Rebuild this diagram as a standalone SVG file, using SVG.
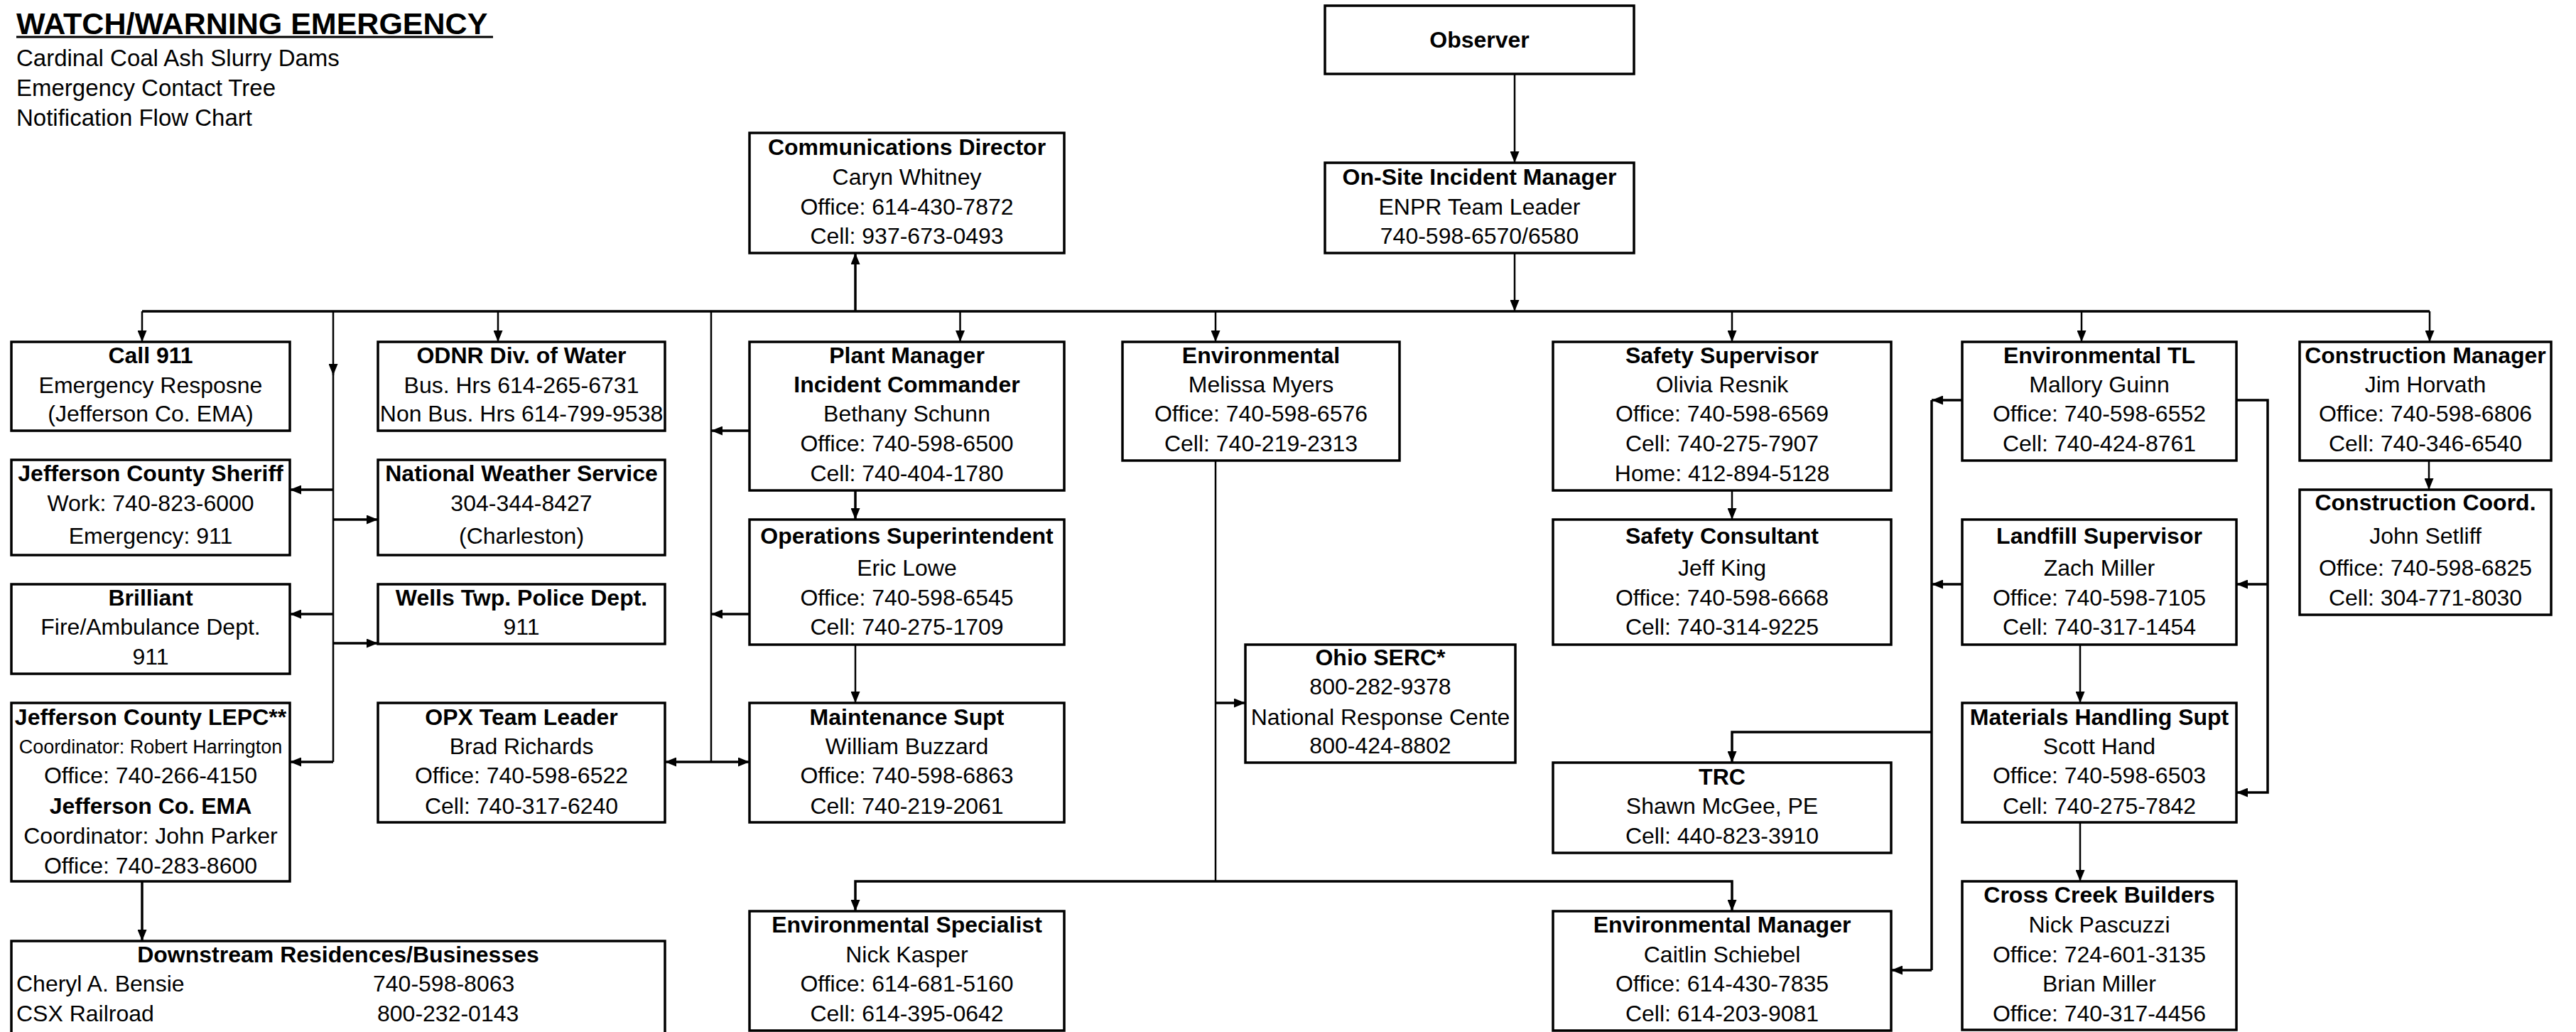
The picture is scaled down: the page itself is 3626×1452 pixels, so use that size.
<svg xmlns="http://www.w3.org/2000/svg" width="3626" height="1452" viewBox="0 0 3626 1452">
<style>
.bg{fill:#fff}
.box{fill:#fff;stroke:#000;stroke-width:3.5}
text{font-family:"Liberation Sans",Arial,sans-serif;font-size:32px;fill:#000;text-anchor:middle}
.b{font-weight:bold}
.s{font-size:27px}
.l{text-anchor:start}
.c{fill:none;stroke:#000;stroke-width:2.5}
.k{stroke-width:3.5}
</style>
<defs>
<marker id="ah" markerUnits="userSpaceOnUse" markerWidth="16" markerHeight="13" refX="16" refY="6.5" orient="auto">
<path d="M0,0 L16,6.5 L0,13 z" fill="#000"/>
</marker>
</defs>
<rect class="bg" x="0" y="0" width="3626" height="1452"/>

<g id="title">
<text class="b l" x="23" y="48" style="font-size:43px">WATCH/WARNING EMERGENCY</text>
<line x1="23" y1="52" x2="694" y2="52" stroke="#000" stroke-width="3"/>
<text class="l" x="23" y="93" style="font-size:33px">Cardinal Coal Ash Slurry Dams</text>
<text class="l" x="23" y="135" style="font-size:33px">Emergency Contact Tree</text>
<text class="l" x="23" y="177" style="font-size:33px">Notification Flow Chart</text>
</g>

<g id="connectors">
<path class="c" d="M2132,104 V229" marker-end="url(#ah)"/>
<path class="c" d="M2132,356 V438" marker-end="url(#ah)"/>
<path class="c k" d="M200,438 H3420"/>
<path class="c" d="M200,438 V481" marker-end="url(#ah)"/>
<path class="c" d="M701,438 V481" marker-end="url(#ah)"/>
<path class="c" d="M469,438 V528" marker-end="url(#ah)"/>
<path class="c" d="M469,520 V1072"/>
<path class="c k" d="M469,689 H408" marker-end="url(#ah)"/>
<path class="c k" d="M469,731 H532" marker-end="url(#ah)"/>
<path class="c k" d="M469,864 H408" marker-end="url(#ah)"/>
<path class="c k" d="M469,905 H532" marker-end="url(#ah)"/>
<path class="c k" d="M469,1072 H408" marker-end="url(#ah)"/>
<path class="c" d="M1001,438 V1072"/>
<path class="c k" d="M1055,606 H1001" marker-end="url(#ah)"/>
<path class="c k" d="M1055,864 H1001" marker-end="url(#ah)"/>
<path class="c k" d="M1001,1072 H936" marker-end="url(#ah)"/>
<path class="c k" d="M1001,1072 H1055" marker-end="url(#ah)"/>
<path class="c k" d="M1204,438 V356" marker-end="url(#ah)"/>
<path class="c" d="M1351.5,438 V481" marker-end="url(#ah)"/>
<path class="c k" d="M1204,690 V731" marker-end="url(#ah)"/>
<path class="c" d="M1204,907 V989" marker-end="url(#ah)"/>
<path class="c" d="M1711,438 V481" marker-end="url(#ah)"/>
<path class="c" d="M1711,648 V1240"/>
<path class="c k" d="M1711,989 H1753" marker-end="url(#ah)"/>
<path class="c k" d="M1711,1240 H1204 V1282" marker-end="url(#ah)"/>
<path class="c k" d="M1711,1240 H2438 V1282" marker-end="url(#ah)"/>
<path class="c" d="M2438,438 V481" marker-end="url(#ah)"/>
<path class="c" d="M2438,690 V731" marker-end="url(#ah)"/>
<path class="c" d="M2930,438 V481" marker-end="url(#ah)"/>
<path class="c" d="M3420,438 V481" marker-end="url(#ah)"/>
<path class="c" d="M3419,648 V689" marker-end="url(#ah)"/>
<path class="c k" d="M2762,563 H2719" marker-end="url(#ah)"/>
<path class="c k" d="M2762,822 H2719" marker-end="url(#ah)"/>
<path class="c k" d="M2719,563 V1365"/>
<path class="c k" d="M2719,1365 H2662" marker-end="url(#ah)"/>
<path class="c k" d="M2719,1030 H2438 V1073" marker-end="url(#ah)"/>
<path class="c k" d="M3148,563 H3192 V1115 H3148" marker-end="url(#ah)"/>
<path class="c k" d="M3192,822 H3148" marker-end="url(#ah)"/>
<path class="c" d="M2928,907 V989" marker-end="url(#ah)"/>
<path class="c" d="M2928,1157 V1240" marker-end="url(#ah)"/>
<path class="c k" d="M200,1240 V1324" marker-end="url(#ah)"/>
</g>

<g id="observer"><rect class="box" x="1865" y="8" width="435" height="96"/>
<text class="b" x="2082.5" y="67">Observer</text></g>

<g id="onsite-incident-manager"><rect class="box" x="1865" y="229" width="435" height="127"/>
<text class="b" x="2082.5" y="260">On-Site Incident Manager</text>
<text x="2082.5" y="302">ENPR Team Leader</text>
<text x="2082.5" y="343">740-598-6570/6580</text></g>

<g id="communications-director"><rect class="box" x="1055" y="187" width="443" height="169"/>
<text class="b" x="1276.5" y="218">Communications Director</text>
<text x="1276.5" y="260">Caryn Whitney</text>
<text x="1276.5" y="302">Office: 614-430-7872</text>
<text x="1276.5" y="343">Cell: 937-673-0493</text></g>

<g id="call-911"><rect class="box" x="16" y="481" width="392" height="125"/>
<text class="b" x="212" y="511">Call 911</text>
<text x="212" y="553">Emergency Resposne</text>
<text x="212" y="593">(Jefferson Co. EMA)</text></g>

<g id="odnr"><rect class="box" x="532" y="481" width="404" height="125"/>
<text class="b" x="734" y="511">ODNR Div. of Water</text>
<text x="734" y="553">Bus. Hrs 614-265-6731</text>
<text x="734" y="593">Non Bus. Hrs 614-799-9538</text></g>

<g id="sheriff"><rect class="box" x="16" y="647" width="392" height="134"/>
<text class="b" x="212" y="677">Jefferson County Sheriff</text>
<text x="212" y="719">Work: 740-823-6000</text>
<text x="212" y="765">Emergency: 911</text></g>

<g id="nws"><rect class="box" x="532" y="647" width="404" height="134"/>
<text class="b" x="734" y="677">National Weather Service</text>
<text x="734" y="719">304-344-8427</text>
<text x="734" y="765">(Charleston)</text></g>

<g id="brilliant"><rect class="box" x="16" y="822" width="392" height="126"/>
<text class="b" x="212" y="852">Brilliant</text>
<text x="212" y="893">Fire/Ambulance Dept.</text>
<text x="212" y="935">911</text></g>

<g id="wells-police"><rect class="box" x="532" y="822" width="404" height="84"/>
<text class="b" x="734" y="852">Wells Twp. Police Dept.</text>
<text x="734" y="893">911</text></g>

<g id="lepc"><rect class="box" x="16" y="989" width="392" height="251"/>
<text class="b" x="212" y="1020">Jefferson County LEPC**</text>
<text class="s" x="212" y="1060">Coordinator: Robert Harrington</text>
<text x="212" y="1102">Office: 740-266-4150</text>
<text class="b" x="212" y="1145">Jefferson Co. EMA</text>
<text x="212" y="1187">Coordinator: John Parker</text>
<text x="212" y="1229">Office: 740-283-8600</text></g>

<g id="opx"><rect class="box" x="532" y="989" width="404" height="168"/>
<text class="b" x="734" y="1020">OPX Team Leader</text>
<text x="734" y="1061">Brad Richards</text>
<text x="734" y="1102">Office: 740-598-6522</text>
<text x="734" y="1145">Cell: 740-317-6240</text></g>

<g id="downstream"><rect class="box" x="16" y="1324" width="920" height="150"/>
<text class="b" x="476" y="1354">Downstream Residences/Businesses</text>
<text class="l" x="23" y="1395">Cheryl A. Bensie</text>
<text class="l" x="525" y="1395">740-598-8063</text>
<text class="l" x="23" y="1437">CSX Railroad</text>
<text class="l" x="531" y="1437">800-232-0143</text></g>

<g id="plant-manager"><rect class="box" x="1055" y="481" width="443" height="209"/>
<text class="b" x="1276.5" y="511">Plant Manager</text>
<text class="b" x="1276.5" y="552">Incident Commander</text>
<text x="1276.5" y="593">Bethany Schunn</text>
<text x="1276.5" y="635">Office: 740-598-6500</text>
<text x="1276.5" y="677">Cell: 740-404-1780</text></g>

<g id="operations-superintendent"><rect class="box" x="1055" y="731" width="443" height="176"/>
<text class="b" x="1276.5" y="765">Operations Superintendent</text>
<text x="1276.5" y="810">Eric Lowe</text>
<text x="1276.5" y="852">Office: 740-598-6545</text>
<text x="1276.5" y="893">Cell: 740-275-1709</text></g>

<g id="maintenance-supt"><rect class="box" x="1055" y="989" width="443" height="168"/>
<text class="b" x="1276.5" y="1020">Maintenance Supt</text>
<text x="1276.5" y="1061">William Buzzard</text>
<text x="1276.5" y="1102">Office: 740-598-6863</text>
<text x="1276.5" y="1145">Cell: 740-219-2061</text></g>

<g id="environmental-specialist"><rect class="box" x="1055" y="1282" width="443" height="168"/>
<text class="b" x="1276.5" y="1312">Environmental Specialist</text>
<text x="1276.5" y="1354">Nick Kasper</text>
<text x="1276.5" y="1395">Office: 614-681-5160</text>
<text x="1276.5" y="1437">Cell: 614-395-0642</text></g>

<g id="environmental"><rect class="box" x="1580" y="481" width="390" height="167"/>
<text class="b" x="1775" y="511">Environmental</text>
<text x="1775" y="552">Melissa Myers</text>
<text x="1775" y="593">Office: 740-598-6576</text>
<text x="1775" y="635">Cell: 740-219-2313</text></g>

<g id="ohio-serc"><rect class="box" x="1753" y="907" width="380" height="166"/>
<text class="b" x="1943" y="936">Ohio SERC*</text>
<text x="1943" y="977">800-282-9378</text>
<text x="1943" y="1020">National Response Cente</text>
<text x="1943" y="1060">800-424-8802</text></g>

<g id="safety-supervisor"><rect class="box" x="2186" y="481" width="476" height="209"/>
<text class="b" x="2424" y="511">Safety Supervisor</text>
<text x="2424" y="552">Olivia Resnik</text>
<text x="2424" y="593">Office: 740-598-6569</text>
<text x="2424" y="635">Cell: 740-275-7907</text>
<text x="2424" y="677">Home: 412-894-5128</text></g>

<g id="safety-consultant"><rect class="box" x="2186" y="731" width="476" height="176"/>
<text class="b" x="2424" y="765">Safety Consultant</text>
<text x="2424" y="810">Jeff King</text>
<text x="2424" y="852">Office: 740-598-6668</text>
<text x="2424" y="893">Cell: 740-314-9225</text></g>

<g id="trc"><rect class="box" x="2186" y="1073" width="476" height="127"/>
<text class="b" x="2424" y="1104">TRC</text>
<text x="2424" y="1145">Shawn McGee, PE</text>
<text x="2424" y="1187">Cell: 440-823-3910</text></g>

<g id="environmental-manager"><rect class="box" x="2186" y="1282" width="476" height="168"/>
<text class="b" x="2424" y="1312">Environmental Manager</text>
<text x="2424" y="1354">Caitlin Schiebel</text>
<text x="2424" y="1395">Office: 614-430-7835</text>
<text x="2424" y="1437">Cell: 614-203-9081</text></g>

<g id="environmental-tl"><rect class="box" x="2762" y="481" width="386" height="167"/>
<text class="b" x="2955" y="511">Environmental TL</text>
<text x="2955" y="552">Mallory Guinn</text>
<text x="2955" y="593">Office: 740-598-6552</text>
<text x="2955" y="635">Cell: 740-424-8761</text></g>

<g id="landfill-supervisor"><rect class="box" x="2762" y="731" width="386" height="176"/>
<text class="b" x="2955" y="765">Landfill Supervisor</text>
<text x="2955" y="810">Zach Miller</text>
<text x="2955" y="852">Office: 740-598-7105</text>
<text x="2955" y="893">Cell: 740-317-1454</text></g>

<g id="materials-handling-supt"><rect class="box" x="2762" y="989" width="386" height="168"/>
<text class="b" x="2955" y="1020">Materials Handling Supt</text>
<text x="2955" y="1061">Scott Hand</text>
<text x="2955" y="1102">Office: 740-598-6503</text>
<text x="2955" y="1145">Cell: 740-275-7842</text></g>

<g id="cross-creek-builders"><rect class="box" x="2762" y="1240" width="386" height="209"/>
<text class="b" x="2955" y="1270">Cross Creek Builders</text>
<text x="2955" y="1312">Nick Pascuzzi</text>
<text x="2955" y="1354">Office: 724-601-3135</text>
<text x="2955" y="1395">Brian Miller</text>
<text x="2955" y="1437">Office: 740-317-4456</text></g>

<g id="construction-manager"><rect class="box" x="3237" y="481" width="354" height="167"/>
<text class="b" x="3414" y="511">Construction Manager</text>
<text x="3414" y="552">Jim Horvath</text>
<text x="3414" y="593">Office: 740-598-6806</text>
<text x="3414" y="635">Cell: 740-346-6540</text></g>

<g id="construction-coord"><rect class="box" x="3237" y="689" width="354" height="176"/>
<text class="b" x="3414" y="718">Construction Coord.</text>
<text x="3414" y="765">John Setliff</text>
<text x="3414" y="810">Office: 740-598-6825</text>
<text x="3414" y="852">Cell: 304-771-8030</text></g>
</svg>
